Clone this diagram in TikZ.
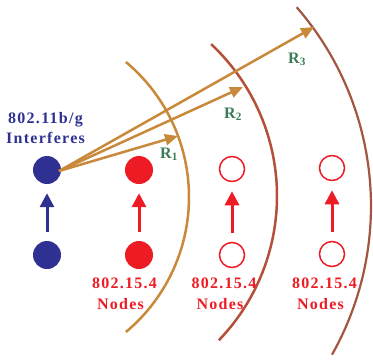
\documentclass[tikz,border=0pt]{standalone}
\usepackage{fontspec}
\setmainfont{Liberation Serif}[LetterSpace=8]
\usetikzlibrary{arrows.meta}
\definecolor{navy}{HTML}{2E3192}
\definecolor{nodered}{HTML}{ED1C24}
\definecolor{tan}{HTML}{C8893B}
\definecolor{arctwo}{HTML}{B4503A}
\definecolor{arcthree}{HTML}{A25640}
\definecolor{rgreen}{HTML}{3C7A5A}
\tikzset{
  lbl/.style={inner sep=0pt, anchor=base, font=\fontsize{16}{20}\selectfont\bfseries},
  rlbl/.style={inner sep=0pt, anchor=base west, text=rgreen, font=\fontsize{16}{20}\selectfont\bfseries},
  fullnode/.style={circle, inner sep=0pt, minimum size=28pt, fill=#1},
  opennode/.style={circle, inner sep=0pt, minimum size=25pt, draw=nodered, line width=1.5pt},
  uparrow/.style={line width=3pt, -{Triangle[length=14pt,width=14pt]}, shorten <=9pt, shorten >=9pt},
  rangearrow/.style={tan, line width=2.5pt, -{Triangle[length=13pt,width=11pt]}},
  rangearc/.style={line width=2.5pt}
}
\begin{document}
\begin{tikzpicture}[x=1pt,y=1pt]
\useasboundingbox (0,0) rectangle (373,-360);
% range arcs
\draw[rangearc, tan] (13,-197) ++(50.1:176) arc[start angle=50.1, end angle=-50.1, radius=176];
\draw[rangearc, arctwo] (69,-196) ++(46.9:208) arc[start angle=46.9, end angle=-43.9, radius=208];
\draw[rangearc, arcthree, line width=2.2pt] (68,-206) ++(41.0:303) arc[start angle=41.0, end angle=-29.4, radius=303];
% nodes
\node[fullnode=navy] (bt) at (47,-170) {};
\node[fullnode=navy] (bb) at (47,-255) {};
\node[fullnode=nodered] (rt) at (139,-170) {};
\node[fullnode=nodered] (rb) at (139,-255) {};
\node[opennode] (ot) at (232,-169) {};
\node[opennode] (ob) at (232,-255) {};
\node[opennode] (pt) at (332,-168) {};
\node[opennode] (pb) at (332,-254) {};
% vertical arrows
\draw[uparrow, navy] (bb) -- (bt);
\draw[uparrow, nodered] (rb) -- (rt);
\draw[uparrow, nodered] (ob) -- (ot);
\draw[uparrow, nodered] (pb) -- (pt);
% range arrows
\coordinate (src) at (59,-171);
\coordinate (e1) at (178,-136);
\coordinate (e2) at (243,-87);
\coordinate (e3) at (314,-27);
\draw[rangearrow] (src) -- (e1);
\draw[rangearrow] (src) -- (e2);
\draw[rangearrow] (src) -- (e3);
% labels
\node[lbl, text=navy] (l1) at (45.5,-123) {802.11b/g};
\node[lbl, text=navy] (l2) at (45.5,-143) {Interferes};
\node[lbl, text=nodered] (a1) at (124.5,-288) {802.15.4};
\node[lbl, text=nodered] (a2) at (120.5,-309) {Nodes};
\node[lbl, text=nodered] (b1) at (224,-288) {802.15.4};
\node[lbl, text=nodered] (b2) at (220,-309) {Nodes};
\node[lbl, text=nodered] (c1) at (324.5,-288) {802.15.4};
\node[lbl, text=nodered] (c2) at (320.5,-309) {Nodes};
\node[rlbl] (r1) at (160,-158) {R\textsubscript{1}};
\node[rlbl] (r2) at (224,-118) {R\textsubscript{2}};
\node[rlbl] (r3) at (288,-63) {R\textsubscript{3}};
\end{tikzpicture}
\end{document}
